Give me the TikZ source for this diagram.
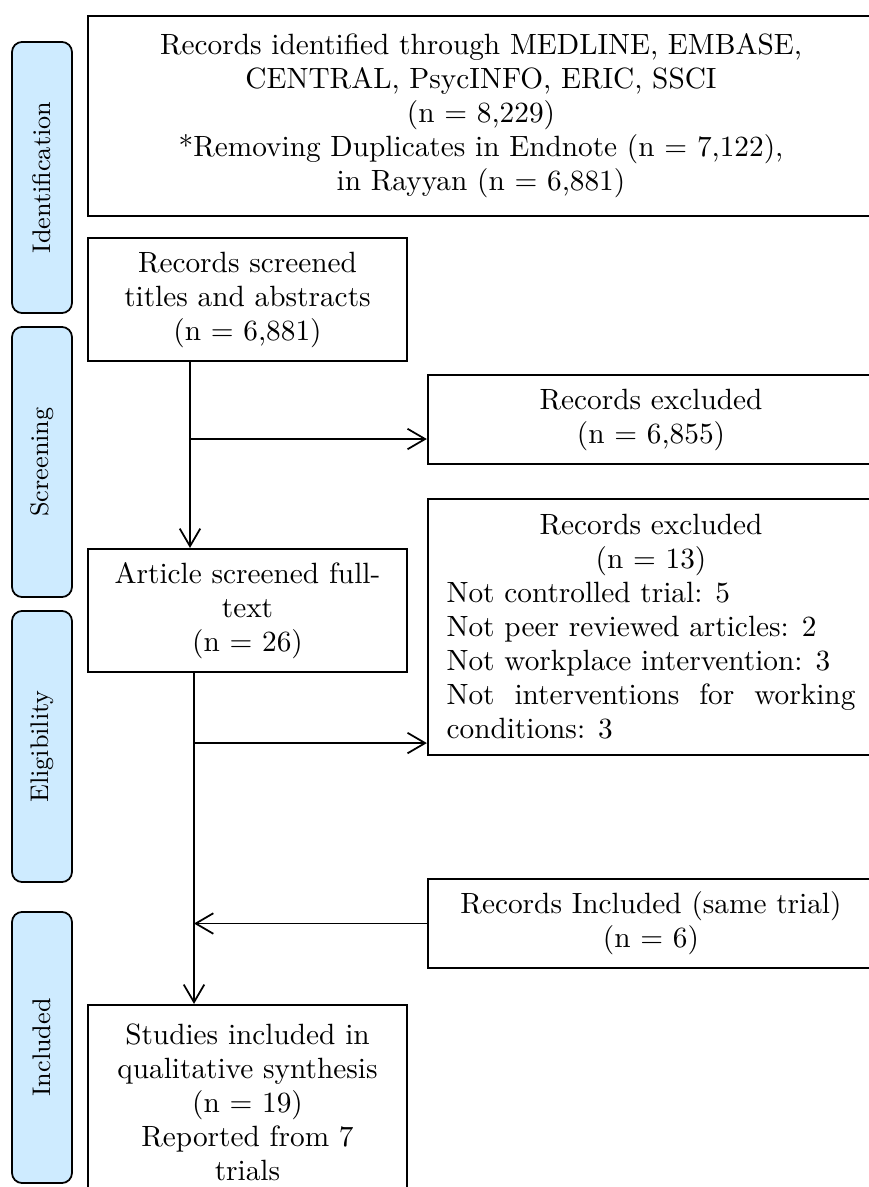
\documentclass[tikz,border=0pt]{standalone}
\usetikzlibrary{arrows.meta}
\definecolor{tabblue}{RGB}{206,235,255}
\tikzset{stagebox/.style={draw,line width=0.7pt,align=center,inner sep=2pt,
		font=\fontsize{10}{11.6}\selectfont}}
\tikzset{phasetab/.style={draw,line width=0.6pt,fill=tabblue,rounded corners=3.5pt,
		minimum width=0.72cm,font=\fontsize{8.7}{10}\selectfont}}
\tikzset{flow/.style={line width=0.6pt,-{Straight Barb[length=6pt,width=7pt]}}}

\begin{document}
\begin{tikzpicture}[x=0.012cm,y=-0.012cm]
	\useasboundingbox (0,0) rectangle (869,1187);
	\clip (0,0) rectangle (869,1187);

	% phase tabs
	\node[phasetab,minimum height=3.252cm] (tabId) at (42,177.5)
		{\rotatebox{90}{Identification}};
	\node[phasetab,minimum height=3.24cm] (tabSc) at (42,462)
		{\rotatebox{90}{Screening}};
	\node[phasetab,minimum height=3.252cm] (tabEl) at (42,746.5)
		{\rotatebox{90}{Eligibility}};
	\node[phasetab,minimum height=3.252cm] (tabIn) at (42,1047.5)
		{\rotatebox{90}{Included}};

	% main column
	\node[stagebox,minimum width=9.432cm,minimum height=2.4cm] (ident) at (481,116)
		{Records identified through MEDLINE, EMBASE,\\
		 CENTRAL, PsycINFO, ERIC, SSCI\\
		 (n = 8,229)\\
		 *Removing Duplicates in Endnote (n = 7,122),\\
		 in Rayyan (n = 6,881)};
	\node[stagebox,minimum width=3.828cm,minimum height=1.476cm] (screen) at (247.5,299.5)
		{Records screened\\ titles and abstracts\\ (n = 6,881)};
	\node[stagebox,minimum width=3.828cm,minimum height=1.476cm] (article) at (247.5,610.5)
		{Article screened full-\\ text\\ (n = 26)};
	\node[stagebox,minimum width=3.828cm,minimum height=2.34cm] (studies) at (247.5,1102.5)
		{Studies included in\\ qualitative synthesis\\ (n = 19)\\ Reported from 7\\ trials};

	% side boxes
	\node[stagebox,minimum width=5.352cm,minimum height=1.068cm] (excl1) at (651,419.5)
		{Records excluded\\ (n = 6,855)};
	\node[stagebox,minimum width=5.352cm,minimum height=3.072cm,
		text width=139.5pt,align=justify] (excl2) at (651,627)
		{{\centering Records excluded\\ (n = 13)\par}
		 Not controlled trial: 5\newline
		 Not peer reviewed articles: 2\newline
		 Not workplace intervention: 3\newline
		 Not interventions for working\linebreak conditions: 3};
	\node[stagebox,minimum width=5.352cm,minimum height=1.068cm] (incl) at (651,923.5)
		{Records Included (same trial)\\ (n = 6)};

	\coordinate (line1) at (190,0);
	\coordinate (line2) at (194,0);
	\coordinate (in1) at ([yshift=-0.234cm]excl1.west);
	\coordinate (in2) at ([yshift=-1.392cm]excl2.west);

	\draw[flow] (screen.south -| line1) -- (article.north -| line1);
	\draw[flow] (line1 |- in1) -- (in1);
	\draw[flow] (article.south -| line2) -- (studies.north -| line2);
	\draw[flow] (line2 |- in2) -- (in2);
	\draw[flow] (incl.west) -- (line2 |- incl.west);
\end{tikzpicture}
\end{document}
